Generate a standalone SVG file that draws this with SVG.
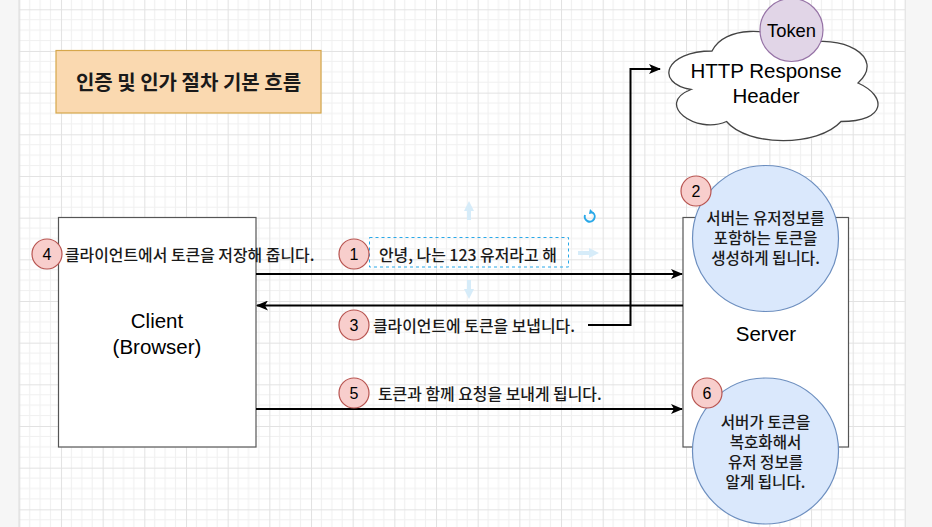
<svg xmlns="http://www.w3.org/2000/svg" width="932" height="527" viewBox="0 0 932 527">
  <defs>
    <pattern id="grid" patternUnits="userSpaceOnUse" x="19.3" y="9.3" width="41.67" height="41.67">
      <rect width="41.67" height="41.67" fill="#ffffff"/>
      <path d="M10.42 0V41.67M20.83 0V41.67M31.25 0V41.67M0 10.42H41.67M0 20.83H41.67M0 31.25H41.67" stroke="#f0f0f0" stroke-width="1" fill="none"/>
      <path d="M0.5 0V41.67M0 0.5H41.67" stroke="#e2e2e2" stroke-width="1" fill="none"/>
    </pattern>
    <marker id="arr" viewBox="0 0 12 10" refX="11" refY="5" markerWidth="12" markerHeight="10" markerUnits="userSpaceOnUse" orient="auto">
      <path d="M0 0L12 5L0 10L3 5Z" fill="#000"/>
    </marker>
    <marker id="hint" viewBox="0 0 10 10" refX="5" refY="5" markerWidth="10" markerHeight="10" markerUnits="userSpaceOnUse" orient="auto">
      <path d="M0 0L10 5L0 10Z" fill="#d6ecf9"/>
    </marker>
  </defs>
  <style>
    .ko { font-family: "Noto Sans CJK KR", "Noto Sans", sans-serif; fill: #1a1a1a; font-weight: 500; }
    .en { font-family: "Liberation Sans", Arial, sans-serif; fill: #000; }
    .box { fill: #ffffff; stroke: #555555; stroke-width: 1.2; }
    .badge { fill: #f8cecc; stroke: #b85450; stroke-width: 1.2; }
    .blue { fill: #dae8fc; stroke: #6c8ebf; stroke-width: 1.2; }
    .edge { fill: none; stroke: #000; stroke-width: 2; }
    .num { font-family: "Liberation Sans", Arial, sans-serif; font-size: 16px; fill: #000; text-anchor: middle; dominant-baseline: central; }
    .lbl { font-size: 15.9px; dominant-baseline: central; }
    .ctr { text-anchor: middle; dominant-baseline: central; }
    .cir { font-size: 15.6px; text-anchor: middle; }
  </style>

  <rect width="932" height="527" fill="#f6f6f6"/>
  <rect x="19" y="0" width="886" height="527" fill="url(#grid)"/>
  <line x1="19" y1="0" x2="19" y2="527" stroke="#dddddd" stroke-width="1"/>
  <line x1="905.5" y1="0" x2="905.5" y2="527" stroke="#e6e6e6" stroke-width="1"/>

  <g id="title">
    <rect x="56" y="50.5" width="265" height="62.5" fill="#fad9b0" stroke="#d6a74b" stroke-width="1.2"/>
    <text x="188.5" y="81.5" class="ko ctr" font-size="20" style="font-weight:bold">인증 및 인가 절차 기본 흐름</text>
  </g>

  <g id="client">
    <rect x="58.5" y="217.5" width="197.5" height="229.5" class="box"/>
    <text x="157" y="320" class="en ctr" font-size="20.5">Client</text>
    <text x="157" y="346" class="en ctr" font-size="20.5">(Browser)</text>
  </g>

  <g id="server">
    <rect x="683" y="217.5" width="165.5" height="229.5" class="box"/>
    <text x="766" y="333" class="en ctr" font-size="20.5">Server</text>
  </g>

  <g id="cloud">
    <path d="M712 51C665 51 654 83 691 89.5C654 104 696 135 726.5 121.5C748 147 818 147 841 121.5C887 121.5 887 96 858 83C887 57 841 32 800 45C771 26 724 26 712 51Z" fill="#ffffff" stroke="#444" stroke-width="1.3"/>
    <text x="766" y="70" class="en ctr" font-size="20.5">HTTP Response</text>
    <text x="766" y="95.5" class="en ctr" font-size="20.5">Header</text>
  </g>

  <g id="token">
    <circle cx="791.5" cy="30" r="31.5" fill="#e1d5e7" stroke="#9673a6" stroke-width="1.2"/>
    <text x="791.5" y="30" class="en ctr" font-size="18.4">Token</text>
  </g>

  <g id="connectors">
    <line x1="256" y1="274" x2="682" y2="274" class="edge" marker-end="url(#arr)"/>
    <line x1="683" y1="305.5" x2="257" y2="305.5" class="edge" marker-end="url(#arr)"/>
    <polyline points="588,325 630.5,325 630.5,69 660,69" class="edge" marker-end="url(#arr)"/>
    <line x1="256" y1="409" x2="682" y2="409" class="edge" marker-end="url(#arr)"/>
  </g>

  <g id="step2">
    <circle cx="765.5" cy="238.5" r="73" class="blue"/>
    <text class="ko cir"><tspan x="765.5" y="224">서버는 유저정보를</tspan><tspan x="765.5" y="244">포함하는 토큰을</tspan><tspan x="765.5" y="264">생성하게 됩니다.</tspan></text>
    <circle cx="696" cy="191" r="15" class="badge"/>
    <text x="696" y="191.5" class="num">2</text>
  </g>

  <g id="step6">
    <circle cx="765.5" cy="451" r="73" class="blue"/>
    <text class="ko cir"><tspan x="765.5" y="427.5">서버가 토큰을</tspan><tspan x="765.5" y="447.5">복호화해서</tspan><tspan x="765.5" y="467.5">유저 정보를</tspan><tspan x="765.5" y="487.5">알게 됩니다.</tspan></text>
    <circle cx="707" cy="393" r="15" class="badge"/>
    <text x="707" y="393.5" class="num">6</text>
  </g>

  <g id="step4">
    <circle cx="47" cy="254" r="15" class="badge"/>
    <text x="47" y="254.5" class="num">4</text>
    <text x="65" y="254" class="ko lbl">클라이언트에서 토큰을 저장해 줍니다.</text>
  </g>

  <g id="step1">
    <rect x="369.5" y="237.5" width="199" height="29.5" fill="none" stroke="#29a8e8" stroke-width="1" stroke-dasharray="3 3"/>
    <circle cx="354" cy="254" r="15" class="badge"/>
    <text x="354" y="254.5" class="num">1</text>
    <text x="379" y="254" class="ko lbl">안녕, 나는 123 유저라고 해</text>
    <line x1="469" y1="220" x2="469" y2="206" stroke="#d6ecf9" stroke-width="4" marker-end="url(#hint)"/>
    <line x1="469" y1="280" x2="469" y2="294" stroke="#d6ecf9" stroke-width="4" marker-end="url(#hint)"/>
    <line x1="578" y1="253" x2="594" y2="253" stroke="#d6ecf9" stroke-width="4" marker-end="url(#hint)"/>
    <path d="M592.5 212.5A5 5 0 1 1 585 215" fill="none" stroke="#29a8e8" stroke-width="2"/>
    <path d="M590 209L594 213L589 214Z" fill="#29a8e8"/>
  </g>

  <g id="step3">
    <circle cx="354" cy="325" r="15" class="badge"/>
    <text x="354" y="325.5" class="num">3</text>
    <text x="373" y="325" class="ko lbl">클라이언트에 토큰을 보냅니다.</text>
  </g>

  <g id="step5">
    <circle cx="354" cy="393" r="15" class="badge"/>
    <text x="354" y="393.5" class="num">5</text>
    <text x="378" y="393" class="ko lbl">토큰과 함께 요청을 보내게 됩니다.</text>
  </g>
</svg>
